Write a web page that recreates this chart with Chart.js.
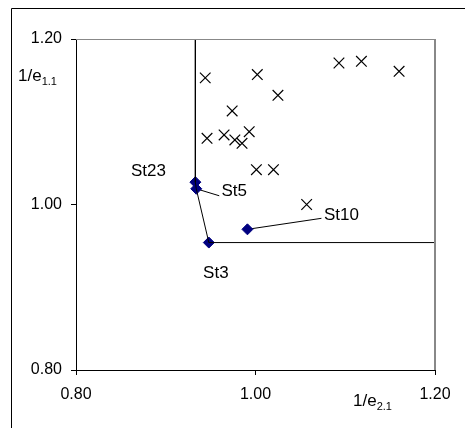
<!DOCTYPE html>
<html>
<head>
<meta charset="utf-8">
<script src="https://cdn.jsdelivr.net/npm/chart.js@4/dist/chart.umd.min.js"></script>
<style>
  body { margin: 0; background: #fff; }
  canvas { display: block; }
</style>
</head>
<body>
<canvas id="chart" width="465" height="428"></canvas>
<script>
// axis range and ticks
const axisMin = 0.80;
const axisMax = 1.20;
const xTicks = [0.80, 1.00, 1.20];
const yTicks = [0.80, 1.00, 1.20];

// inefficient units (crosses)
const otherX = [0.944, 1.002, 1.093, 1.118, 1.160, 1.025, 0.974, 0.946, 0.965, 0.977, 0.985, 0.993, 1.001, 1.020, 1.057];
const otherY = [1.153, 1.157, 1.171, 1.173, 1.161, 1.132, 1.113, 1.080, 1.084, 1.078, 1.074, 1.088, 1.042, 1.042, 1.000];

// labelled units (diamonds)
const unitNames = ['St23', 'St5', 'St3', 'St10'];
const unitX = [0.933, 0.934, 0.948, 0.991];
const unitY = [1.027, 1.019, 0.954, 0.970];
const frontierUnits = ['St23', 'St5', 'St3'];

// label placement (pixels from the point), leader line end or null
const labelOffsets = [[-47, -11], [38, 3], [7, 31], [94, -14]];
const leaderEnds = [null, [23, 7], null, [74, -11]];

const FONT = '"Liberation Sans", Arial, sans-serif';

const crosses = otherX.map((x, i) => ({ x: x, y: otherY[i] }));
const units = unitX.map((x, i) => ({ x: x, y: unitY[i] }));
const front = frontierUnits.map(n => units[unitNames.indexOf(n)]);
const frontier = [{ x: front[0].x, y: axisMax }].concat(front, [{ x: axisMax, y: front[front.length - 1].y }]);

function drawSubTitle(ctx, main, sub, x, y) {
  ctx.font = '17px ' + FONT;
  ctx.fillText(main, x, y);
  const w = ctx.measureText(main).width;
  ctx.font = '11px ' + FONT;
  ctx.fillText(sub, x + w, y + 4);
}

const decor = {
  id: 'decor',
  beforeDatasetsDraw(chart) {
    const ctx = chart.ctx;
    const xs = chart.scales.x, ys = chart.scales.y;
    ctx.save();
    ctx.strokeStyle = '#000';
    ctx.lineWidth = 1;
    units.forEach((p, i) => {
      const end = leaderEnds[i];
      if (!end) return;
      const px = xs.getPixelForValue(p.x), py = ys.getPixelForValue(p.y);
      ctx.beginPath();
      ctx.moveTo(px, py);
      ctx.lineTo(px + end[0], py + end[1]);
      ctx.stroke();
    });
    ctx.restore();
  },
  afterDraw(chart) {
    const ctx = chart.ctx;
    const a = chart.chartArea;
    const xs = chart.scales.x, ys = chart.scales.y;
    ctx.save();
    // outer frame
    ctx.strokeStyle = '#000';
    ctx.lineWidth = 1;
    ctx.beginPath();
    ctx.moveTo(11.5, chart.height);
    ctx.lineTo(11.5, 8.5);
    ctx.lineTo(chart.width, 8.5);
    ctx.stroke();
    // top / right plot border
    ctx.strokeStyle = '#888';
    ctx.beginPath();
    ctx.moveTo(a.left, a.top + 0.5);
    ctx.lineTo(a.right, a.top + 0.5);
    ctx.stroke();
    ctx.lineWidth = 2;
    ctx.beginPath();
    ctx.moveTo(a.right, a.top);
    ctx.lineTo(a.right, a.bottom);
    ctx.stroke();
    // axis titles
    ctx.fillStyle = '#000';
    ctx.textAlign = 'left';
    ctx.textBaseline = 'alphabetic';
    drawSubTitle(ctx, '1/e', '1.1', 18, a.top + 42);
    drawSubTitle(ctx, '1/e', '2.1', a.right - 82, a.bottom + 36);
    // unit labels
    ctx.font = '17px ' + FONT;
    ctx.textAlign = 'center';
    ctx.textBaseline = 'middle';
    units.forEach((p, i) => {
      const px = xs.getPixelForValue(p.x), py = ys.getPixelForValue(p.y);
      ctx.fillText(unitNames[i], px + labelOffsets[i][0], py + labelOffsets[i][1]);
    });
    ctx.restore();
  }
};

function axis(ticks, fitKey, fitVal, pad) {
  return {
    type: 'linear',
    min: axisMin,
    max: axisMax,
    afterBuildTicks: s => { s.ticks = ticks.map(v => ({ value: v })); },
    afterFit: s => { s[fitKey] = fitVal; },
    ticks: {
      color: '#000',
      padding: pad,
      font: { family: FONT, size: 16 },
      callback: v => Number(v).toFixed(2)
    },
    grid: { drawOnChartArea: false, color: '#000', tickLength: 5 },
    border: { color: '#000', width: 1 }
  };
}

new Chart(document.getElementById('chart'), {
  type: 'scatter',
  data: {
    datasets: [
      {
        data: crosses,
        pointStyle: 'crossRot',
        pointRadius: 7.5,
        borderColor: '#000',
        borderWidth: 1.2
      },
      {
        data: frontier,
        showLine: true,
        pointRadius: 0,
        borderColor: '#000',
        borderWidth: 1
      },
      {
        data: units,
        pointStyle: 'rectRot',
        pointRadius: 5.5,
        backgroundColor: '#000080',
        borderColor: '#000080',
        borderWidth: 1
      }
    ]
  },
  options: {
    responsive: false,
    animation: false,
    layout: { padding: { top: 39, right: 30, left: 0, bottom: 0 } },
    plugins: { legend: { display: false }, tooltip: { enabled: false } },
    scales: {
      x: axis(xTicks, 'height', 58, 10),
      y: axis(yTicks, 'width', 76, 9)
    }
  },
  plugins: [decor]
});
</script>
</body>
</html>
